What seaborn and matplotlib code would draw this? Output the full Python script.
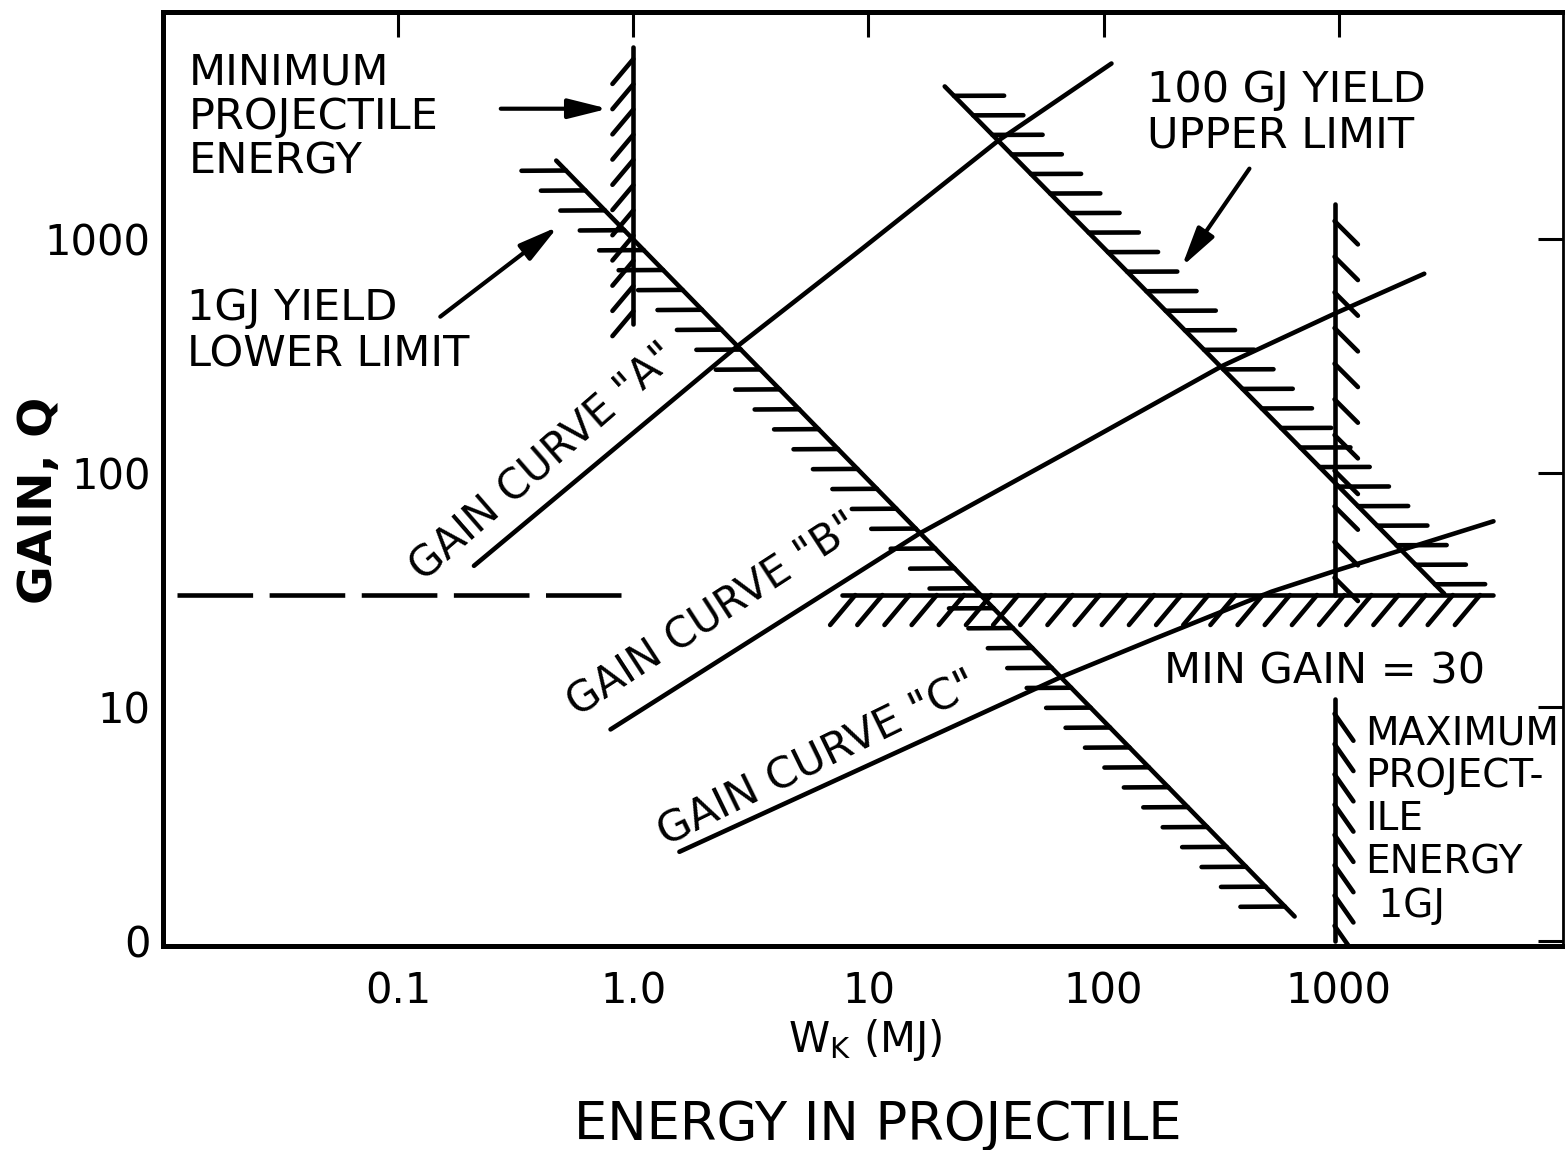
import matplotlib
matplotlib.use("Agg")
import matplotlib.pyplot as plt
from matplotlib import patheffects
from matplotlib.ticker import NullLocator
import seaborn as sns

# gain curves (W_K in MJ, gain Q)
w_curve_a = [0.21, 2.75, 9.4, 35.6, 108]
q_curve_a = [40, 345, 906, 2620, 5600]
w_curve_b = [0.80, 16.5, 75, 320, 960, 2310]
q_curve_b = [8.0, 55, 127, 286, 478, 708]
w_curve_c = [1.57, 66, 164, 517, 960, 4550]
q_curve_c = [2.4, 13.4, 19.5, 31, 38, 62]

# limit lines
w_yield_1gj = [649, 0.47]
q_yield_1gj = [1.27, 2155]
w_yield_100gj = [21.1, 2810]
q_yield_100gj = [4470, 30.4]
w_min_energy = [1.0, 1.0]
q_min_energy = [433, 6620]
w_max_energy = [960, 960]
q_max_energy_upper = [1410, 30]
q_max_energy_lower = [10.8, 1.0]
w_min_gain = [4550, 7.7]
q_min_gain = [30, 30]
w_dashed = [0.0115, 0.89]
q_dashed = [30, 30]

x_ticks = [0.1, 1, 10, 100, 1000]
x_tick_labels = ["0.1", "1.0", "10", "100", "1000"]
y_ticks = [1, 10, 100, 1000]
y_tick_labels = ["0", "10", "100", "1000"]

sns.set_style("white")
plt.rcParams["font.family"] = ["DejaVu Sans"]
plt.rcParams["text.color"] = "black"
plt.rcParams["axes.labelcolor"] = "black"
plt.rcParams["xtick.color"] = "black"
plt.rcParams["ytick.color"] = "black"

fig = plt.figure(figsize=(15.65, 11.5), dpi=100)
ax = fig.add_axes([0.1042, 0.1774, 0.8946, 0.8122])
ax.set_xscale("log")
ax.set_yscale("log")

LW = 3.3


def ticked(spacing, angle, length):
    return [patheffects.withTickedStroke(spacing=spacing, angle=angle,
                                         length=length, linewidth=LW)]


def line(w, q, **kw):
    sns.lineplot(x=w, y=q, ax=ax, estimator=None, sort=False,
                 color="black", lw=LW, **kw)


# gain curves
line(w_curve_a, q_curve_a)
line(w_curve_b, q_curve_b)
line(w_curve_c, q_curve_c)

# hatched limits
line(w_yield_1gj, q_yield_1gj, path_effects=ticked(20, 46, 1.6))
line(w_yield_100gj, q_yield_100gj, path_effects=ticked(19, 45.6, 1.9))
line(w_min_energy, q_min_energy, path_effects=ticked(18, 140, 1.3))
line(w_max_energy, q_max_energy_upper, path_effects=ticked(25, 45, 0.95))
line(w_max_energy, q_max_energy_lower, path_effects=ticked(21.5, 35, 1.1))
line(w_min_gain, q_min_gain, path_effects=ticked(19.4, 50, 1.45))
line(w_dashed, q_dashed, linestyle=(0, (16.5, 3.6)))

ax.set_xlim(0.01, 9000)
ax.set_ylim(0.95, 9300)
ax.set_xticks(x_ticks)
ax.set_xticklabels(x_tick_labels)
ax.set_yticks(y_ticks)
ax.set_yticklabels(y_tick_labels)
ax.xaxis.set_minor_locator(NullLocator())
ax.yaxis.set_minor_locator(NullLocator())
ax.tick_params(which="major", direction="in", length=18, width=2.2,
               top=True, right=True, labelsize=30, color="black",
               labelcolor="black")
ax.tick_params(axis="x", pad=18)
ax.tick_params(axis="y", pad=9)
for side in ["left", "bottom", "top"]:
    ax.spines[side].set_linewidth(3.6)
    ax.spines[side].set_color("black")
ax.spines["right"].set_linewidth(2)
ax.spines["right"].set_color("black")
ax.set_xlabel("")
ax.set_ylabel("")

# annotations
txt = dict(fontsize=31, color="black")
ax.text(0.0129, 6300, "MINIMUM\nPROJECTILE\nENERGY", ha="left", va="top",
        linespacing=1.07, **txt)
ax.text(0.0127, 620, "1GJ YIELD\nLOWER LIMIT", ha="left", va="top",
        linespacing=1.13, **txt)
ax.text(153, 5300, "100 GJ YIELD\nUPPER LIMIT", ha="left", va="top",
        linespacing=1.09, **txt)
ax.text(180, 14.1, "MIN GAIN = 30", ha="left", va="center", **txt)
ax.text(1300, 9.3, "MAXIMUM\nPROJECT-\nILE\nENERGY\n 1GJ", ha="left",
        va="top", linespacing=1.17, fontsize=28, color="black")

ax.text(0.417, 111, 'GAIN CURVE "A"', rotation=41, ha="center", va="center",
        fontsize=30, color="black")
ax.text(2.18, 24.7, 'GAIN CURVE "B"', rotation=33, ha="center", va="center",
        fontsize=30, color="black")
ax.text(6.1, 6.0, 'GAIN CURVE "C"', rotation=26, ha="center", va="center",
        fontsize=31, color="black")

arrow = dict(arrowstyle="-|>,head_length=1.2,head_width=0.3", lw=3,
             color="black", mutation_scale=20, shrinkA=0, shrinkB=0)
ax.annotate("", xy=(0.78, 3590), xytext=(0.273, 3590), arrowprops=arrow)
ax.annotate("", xy=(0.478, 1125), xytext=(0.151, 464), arrowprops=arrow)
ax.annotate("", xy=(215, 759), xytext=(417, 1991), arrowprops=arrow)

fig.text(40 / 1565, 1 - 500 / 1150, "GAIN, Q", rotation=90, ha="center",
         va="center", fontsize=34, fontweight="bold", color="black")
fig.text(865 / 1565, 1 - 1040 / 1150, r"W$_{\mathrm{K}}$ (MJ)", ha="center",
         va="center", fontsize=30, color="black")
fig.text(878 / 1565, 1 - 1125 / 1150, "ENERGY IN PROJECTILE", ha="center",
         va="center", fontsize=38, color="black")

fig.savefig("out.png", dpi=100)
